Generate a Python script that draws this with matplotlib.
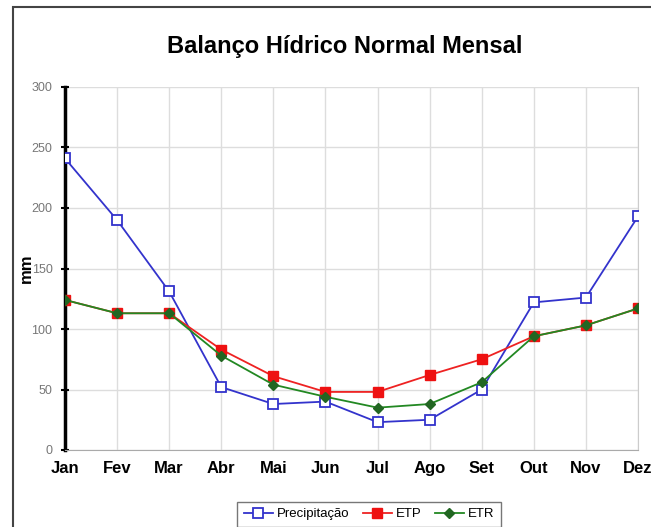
import matplotlib.pyplot as plt
from matplotlib.patches import Rectangle

meses = ['Jan', 'Fev', 'Mar', 'Abr', 'Mai', 'Jun', 'Jul', 'Ago', 'Set', 'Out', 'Nov', 'Dez']
precipitacao = [241, 190, 131, 52, 38, 40, 23, 25, 50, 122, 126, 193]
etp = [124, 113, 113, 83, 61, 48, 48, 62, 75, 94, 103, 117]
etr = [124, 113, 113, 78, 54, 44, 35, 38, 56, 94, 103, 117]
y_ticks = [0, 50, 100, 150, 200, 250, 300]

plt.rcParams['font.family'] = ['Liberation Sans Narrow', 'Liberation Sans', 'DejaVu Sans']

fig = plt.figure(figsize=(6.51, 5.27), dpi=100)
ax = fig.add_axes([65 / 651, 1 - 450 / 527, 573 / 651, 363 / 527])

x = list(range(len(meses)))
ax.plot(x, precipitacao, color='#3333cc', lw=1.3, marker='s', ms=7,
        mfc='white', mec='#3333cc', mew=1.3, label='Precipitação', zorder=3)
ax.plot(x, etp, color='#ee2222', lw=1.3, marker='s', ms=7,
        mfc='#ee1111', mec='#ee1111', label='ETP', zorder=4)
ax.plot(x, etr, color='#228822', lw=1.3, marker='D', ms=5,
        mfc='#226622', mec='#226622', label='ETR', zorder=5)

ax.set_xlim(0, 11)
ax.set_ylim(0, 300)
ax.set_xticks(x)
ax.set_xticklabels(meses, fontsize=12, fontweight='bold')
ax.set_yticks(y_ticks)
ax.set_yticklabels([str(v) for v in y_ticks], fontsize=9, color='#777777')
ax.tick_params(axis='y', direction='inout', length=6, width=1.5, color='black', pad=6)
ax.tick_params(axis='x', length=0, pad=8)
ax.grid(True, color='#dddddd', lw=1)
ax.set_axisbelow(True)

ax.spines['left'].set_linewidth(2.5)
ax.spines['left'].set_color('black')
ax.spines['bottom'].set_color('#aaaaaa')
ax.spines['right'].set_color('#cccccc')
ax.spines['top'].set_visible(False)

ax.set_ylabel('mm', fontsize=12, fontweight='bold', labelpad=-2)

fig.text(345 / 651, 1 - 47 / 527, 'Balanço Hídrico Normal Mensal',
         ha='center', va='center', fontsize=17, fontweight='bold')

fig.legend(loc='upper center', bbox_to_anchor=(369 / 651, 1 - 495 / 527),
           ncol=3, fontsize=9.5, frameon=True, fancybox=False, edgecolor='#555555',
           handlelength=2.2, handletextpad=0.3, columnspacing=1.0, borderpad=0.5)

fig.patches.append(Rectangle((13 / 651, -0.1), 1.0, 1 - 7 / 527 + 0.1,
                             transform=fig.transFigure, fill=False,
                             edgecolor='#444444', lw=1.5))

fig.savefig('out.png', dpi=100)
